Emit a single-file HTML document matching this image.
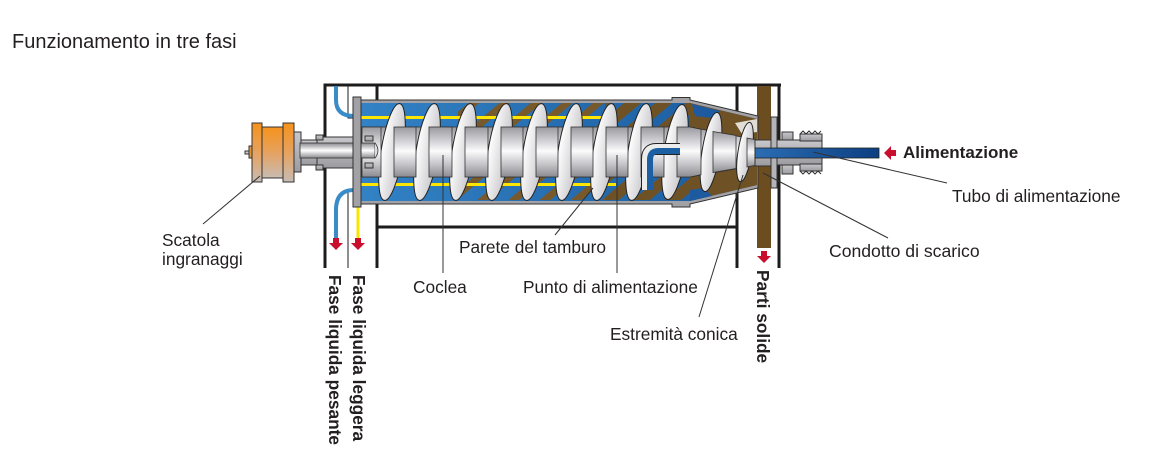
<!DOCTYPE html>
<html><head><meta charset="utf-8">
<style>
html,body{margin:0;padding:0;background:#fff;}
svg{display:block;}
text{font-family:"Liberation Sans",Arial,sans-serif;fill:#231f20;}
</style></head><body>
<svg width="1157" height="455" viewBox="0 0 1157 455" xmlns="http://www.w3.org/2000/svg">
<defs>
 <linearGradient id="gb" x1="0" y1="0" x2="0" y2="1">
  <stop offset="0" stop-color="#f5921c"/><stop offset="0.5" stop-color="#e6a260"/><stop offset="1" stop-color="#c8bcb2"/>
 </linearGradient>
 <linearGradient id="hub" x1="0" y1="0" x2="0" y2="1">
  <stop offset="0" stop-color="#9a9a9e"/><stop offset="0.3" stop-color="#d6d6da"/><stop offset="0.48" stop-color="#fbfbfb"/><stop offset="0.75" stop-color="#c4c4c8"/><stop offset="1" stop-color="#8c8c90"/>
 </linearGradient>
 <linearGradient id="blue" x1="0" y1="0" x2="1" y2="0">
  <stop offset="0" stop-color="#3282c5"/><stop offset="1" stop-color="#1a5a9d"/>
 </linearGradient>
 <linearGradient id="fl" x1="0" y1="0" x2="1" y2="0">
  <stop offset="0" stop-color="#ffffff"/><stop offset="1" stop-color="#c6c6ca"/>
 </linearGradient>
 <linearGradient id="tube" x1="0" y1="0" x2="1" y2="0">
  <stop offset="0" stop-color="#2b6db3"/><stop offset="1" stop-color="#0c3f82"/>
 </linearGradient>
 <linearGradient id="shaft" x1="0" y1="0" x2="0" y2="1">
  <stop offset="0" stop-color="#8a8a8e"/><stop offset="0.5" stop-color="#ffffff"/><stop offset="1" stop-color="#8a8a8e"/>
 </linearGradient>
 <linearGradient id="gray" x1="0" y1="0" x2="0" y2="1">
  <stop offset="0" stop-color="#c8c8cc"/><stop offset="1" stop-color="#9c9ca0"/>
 </linearGradient>
 <pattern id="st" width="20" height="20" patternUnits="userSpaceOnUse" patternTransform="rotate(-40)">
  <rect width="20" height="7" fill="#77592b"/>
 </pattern>
 <pattern id="st2" width="20" height="20" patternUnits="userSpaceOnUse" patternTransform="rotate(-40)">
  <rect width="20" height="11" fill="#6e5226"/>
 </pattern>
</defs>

<!-- title -->
<text x="12" y="48" font-size="20">Funzionamento in tre fasi</text>

<!-- frame lines -->
<g stroke="#1c1c1c" stroke-width="3" fill="none">
 <line x1="323.5" y1="85" x2="781" y2="85"/>
 <line x1="325" y1="85" x2="325" y2="268"/>
 <line x1="377" y1="85" x2="377" y2="268"/>
 <line x1="377" y1="227" x2="738" y2="227"/>
 <line x1="737" y1="85" x2="737" y2="268"/>
 <line x1="779" y1="85" x2="779" y2="268"/>
</g>
<g stroke="#1c1c1c" stroke-width="1" fill="none">
 <polyline points="348,85 348,118 354,118"/>
 <polyline points="354,190 348,190 348,268"/>
</g>

<!-- solids discharge pipe -->
<rect x="757" y="86" width="14" height="162" fill="#6c4d1f"/>

<!-- liquid pipes -->
<path d="M336,86 V100 Q336,116 354,116" stroke="#3a8cc8" stroke-width="4" fill="none"/>
<path d="M354,190 Q336,190 336,210 V240" stroke="#3a8cc8" stroke-width="4" fill="none"/>
<line x1="358" y1="188" x2="358" y2="240" stroke="#f7e600" stroke-width="3"/>

<!-- red arrows -->
<g fill="#c8102e">
 <rect x="333" y="238" width="6" height="5"/><polygon points="329,243 343,243 336,250"/>
 <rect x="355" y="238" width="6" height="5"/><polygon points="351,243 365,243 358,250"/>
 <rect x="761" y="251" width="6" height="5"/><polygon points="757,256 771,256 764,263"/>
 <rect x="890" y="150" width="6" height="6"/><polygon points="884,153 891,146 891,160"/>
</g>

<!-- gearbox -->
<g stroke="#333" stroke-width="1">
 <rect x="245" y="151" width="6" height="3" fill="#ccc"/>
 <rect x="249" y="146" width="3" height="12" fill="#e39a40"/>
 <rect x="262" y="127" width="21" height="51" fill="url(#gb)"/>
 <rect x="252" y="123" width="10" height="59" fill="url(#gb)"/>
 <rect x="283" y="123" width="11" height="59" fill="url(#gb)"/>
</g>

<!-- shaft housing -->
<g stroke="#333" stroke-width="1" fill="url(#gray)">
 <rect x="294" y="132" width="7" height="40"/>
 <rect x="301" y="140" width="16" height="25"/>
 <rect x="317" y="137" width="38" height="31"/>
 <rect x="316" y="135" width="7" height="5"/>
 <rect x="316" y="165" width="7" height="5"/>
</g>

<!-- drum shell -->
<path d="M353,97 H361 V100 H672 V97.5 H690 V100 L758,116 V188 L690,204 V207 H672 V204 H361 V207 H353 Z" fill="#a2a2a6" stroke="#333" stroke-width="1"/>
<!-- inner -->
<path d="M361,103 H690 L757,119 V185 L690,201 H361 Z" fill="url(#blue)"/>
<!-- stripes -->
<rect x="458" y="103" width="147" height="97" fill="url(#st)"/>
<rect x="605" y="103" width="85" height="97" fill="url(#st2)"/>
<!-- cone brown -->
<path d="M690,103 L757,119 V185 L690,201 Z" fill="#6e5226"/>
<path d="M692,104 L720,111 L712,118 L695,116 Z" fill="#1d5aa0"/>
<path d="M690,201 L712,196 L704,188 L690,190 Z" fill="#1d5aa0"/>
<path d="M735,123 L757,119 V132 L742,134 Z" fill="#e2ddd4"/>
<!-- yellow lines -->
<rect x="361" y="116" width="250" height="3" fill="#ffe600"/>
<rect x="361" y="183" width="255" height="3" fill="#ffe600"/>
<!-- hub base -->
<rect x="362" y="127" width="328" height="50" fill="url(#hub)" stroke="#333" stroke-width="0.8"/>
<path d="M690,127 L757,140 V165 L690,177 Z" fill="url(#hub)" stroke="#333" stroke-width="0.8"/>

<!-- flights -->
<g stroke="#222" stroke-width="1" fill="url(#fl)">
 <ellipse cx="392" cy="152" rx="11" ry="49" transform="rotate(9 392 152)"/>
 <ellipse cx="427" cy="152" rx="11" ry="49" transform="rotate(9 427 152)"/>
 <ellipse cx="463" cy="152" rx="11" ry="49" transform="rotate(9 463 152)"/>
 <ellipse cx="499" cy="152" rx="11" ry="49" transform="rotate(9 499 152)"/>
 <ellipse cx="534" cy="152" rx="11" ry="49" transform="rotate(9 534 152)"/>
 <ellipse cx="569" cy="152" rx="11" ry="49" transform="rotate(9 569 152)"/>
 <ellipse cx="604" cy="152" rx="11" ry="49" transform="rotate(9 604 152)"/>
 <ellipse cx="639" cy="152" rx="11" ry="49" transform="rotate(9 639 152)"/>
 <ellipse cx="675" cy="152" rx="11" ry="48" transform="rotate(9 675 152)"/>
 <ellipse cx="711" cy="152" rx="9" ry="40" transform="rotate(9 711 152)"/>
 <ellipse cx="745" cy="152" rx="7" ry="30" transform="rotate(9 745 152)"/>
</g>

<!-- hub segments -->
<g fill="url(#hub)" stroke="#333" stroke-width="0.8">
 <rect x="362" y="127" width="19" height="50"/>
 <rect x="394" y="127" width="22" height="50"/>
 <rect x="429" y="127" width="23" height="50"/>
 <rect x="465" y="127" width="23" height="50"/>
 <rect x="501" y="127" width="22" height="50"/>
 <rect x="536" y="127" width="22" height="50"/>
 <rect x="571" y="127" width="22" height="50"/>
 <rect x="606" y="127" width="22" height="50"/>
 <rect x="641" y="127" width="23" height="50"/>
 <path d="M677,127 H690 L701,129.2 V174.8 L690,177 H677 Z"/>
 <path d="M713,131.5 L736,135.5 V168.5 L713,172.5 Z"/>
 <path d="M747,138 L757,140 V165 L747,167 Z"/>
</g>

<!-- feed outlet hook -->
<path d="M680,149 H656 Q647,149 647,159 V190" stroke="#222" stroke-width="12" fill="none"/>
<path d="M680,149 H656 Q647,149 647,159 V190" stroke="#ececec" stroke-width="10" fill="none"/>
<path d="M680,151 H658 Q650,151 650,160 V190" stroke="#1d5fa3" stroke-width="6" fill="none"/>

<!-- left cap + shaft -->
<rect x="300" y="143" width="75" height="15" fill="url(#shaft)" stroke="#333" stroke-width="0.8"/>
<path d="M375,143 Q381,150.5 375,158" fill="#ddd" stroke="#333" stroke-width="0.8"/>
<g stroke="#333" stroke-width="1" fill="url(#gray)">
 <rect x="365" y="136" width="8" height="5"/>
 <rect x="365" y="163" width="8" height="5"/>
</g>
<rect x="353" y="97" width="8" height="110" fill="#a2a2a6" stroke="#333" stroke-width="1"/>

<!-- right end -->
<rect x="755" y="140" width="22" height="26" fill="url(#gray)" stroke="#333" stroke-width="1"/>
<rect x="771" y="117" width="6" height="71" fill="#b4b4b8" stroke="#333" stroke-width="1"/>
<g stroke="#333" stroke-width="1" fill="url(#gray)">
 <rect x="777" y="140" width="45" height="25"/>
 <rect x="782" y="132" width="11" height="8"/>
 <rect x="782" y="165" width="11" height="9"/>
 <rect x="800" y="134" width="22" height="7"/>
 <rect x="800" y="164" width="22" height="7"/>
</g>
<polyline points="800,134 803,131 806,134 809,131 812,134 815,131 818,134 821,131" fill="none" stroke="#333" stroke-width="1"/>
<polyline points="800,171 803,174 806,171 809,174 812,171 815,174 818,171 821,174" fill="none" stroke="#333" stroke-width="1"/>
<rect x="755" y="148" width="124" height="10" fill="url(#tube)" stroke="#222" stroke-width="0.8"/>

<!-- leader lines -->
<g stroke="#333" stroke-width="1" fill="none">
 <line x1="203" y1="224" x2="260" y2="176"/>
 <line x1="443" y1="155" x2="443" y2="273"/>
 <line x1="617" y1="155" x2="617" y2="273"/>
 <line x1="555" y1="235" x2="593" y2="188"/>
 <line x1="699" y1="317" x2="743" y2="175"/>
 <line x1="888" y1="238" x2="763" y2="173"/>
 <line x1="947" y1="183" x2="813" y2="152"/>
</g>

<!-- labels -->
<text x="162" y="246" font-size="17.3">Scatola</text>
<text x="162" y="265" font-size="17.3">ingranaggi</text>
<text x="413" y="293" font-size="17.3">Coclea</text>
<text x="459" y="253" font-size="17.3">Parete del tamburo</text>
<text x="523" y="293" font-size="17.3">Punto di alimentazione</text>
<text x="610" y="340" font-size="17.3">Estremità conica</text>
<text x="829" y="257" font-size="17.6">Condotto di scarico</text>
<text x="952" y="202" font-size="17.3">Tubo di alimentazione</text>
<text x="903" y="158" font-size="17" font-weight="bold">Alimentazione</text>
<text transform="translate(329,275) rotate(90)" font-size="17.3" font-weight="bold">Fase liquida pesante</text>
<text transform="translate(353,275) rotate(90)" font-size="17.3" font-weight="bold">Fase liquida leggera</text>
<text transform="translate(757,270) rotate(90)" font-size="17.3" font-weight="bold">Parti solide</text>
</svg>
</body></html>
